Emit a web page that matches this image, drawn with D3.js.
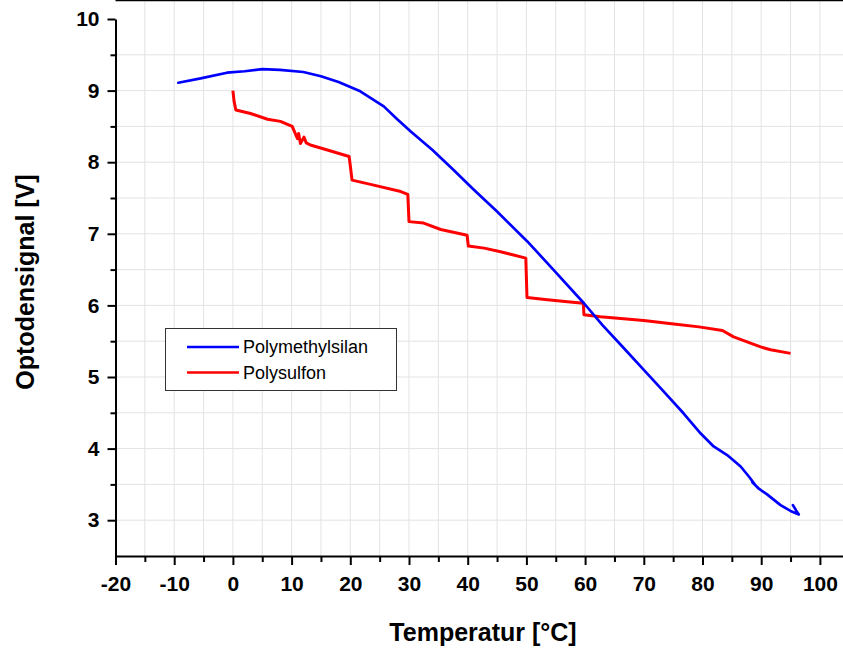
<!DOCTYPE html>
<html>
<head>
<meta charset="utf-8">
<script src="https://cdn.jsdelivr.net/npm/d3@7"></script>
<style>
  body { margin: 0; background: #fff; }
  svg { display: block; font-family: "Liberation Sans", Arial, sans-serif; }
</style>
</head>
<body>
<script>
// Polymethylsilan [temperature, signal]
var pmsTemp = [-9.3, -5.5, -1, 2, 5, 8, 12, 15, 18, 21.7, 25.7, 28, 30.3, 34, 37.6, 41, 45, 50.2, 54.7, 59.8, 63, 66.3, 70, 72.9, 76.8, 79.7, 81.9, 84.2, 86.5, 88, 88.9, 88.5, 89.6, 91, 93.3, 95, 96.4, 96.0, 95.4];
var pmsSignal = [9.11, 9.17, 9.25, 9.27, 9.30, 9.29, 9.26, 9.20, 9.12, 8.99, 8.78, 8.60, 8.43, 8.17, 7.89, 7.62, 7.31, 6.89, 6.49, 6.03, 5.72, 5.43, 5.10, 4.84, 4.49, 4.21, 4.03, 3.91, 3.75, 3.60, 3.50, 3.53, 3.44, 3.36, 3.21, 3.13, 3.08, 3.13, 3.21];

// Polysulfon
var psTemp = [0, 0.2, 0.5, 3, 5.9, 8.1, 10.1, 11, 11.2, 11.5, 12.1, 12.5, 13.2, 16.1, 19.8, 20.0, 20.3, 24, 28.6, 29.8, 30.0, 32.5, 35.4, 39.9, 40.1, 42.8, 45.6, 49.9, 50.1, 53.6, 57, 59.7, 59.8, 62.6, 70, 75.1, 79.4, 83.4, 85.3, 87.6, 89.9, 91.6, 95];
var psSignal = [9.0, 8.85, 8.73, 8.68, 8.60, 8.57, 8.50, 8.33, 8.40, 8.26, 8.35, 8.27, 8.24, 8.17, 8.08, 7.95, 7.75, 7.68, 7.59, 7.55, 7.17, 7.15, 7.06, 6.98, 6.83, 6.80, 6.75, 6.66, 6.11, 6.08, 6.05, 6.03, 5.87, 5.84, 5.79, 5.74, 5.70, 5.65, 5.56, 5.49, 5.42, 5.38, 5.33];

var seriesNames = ["Polymethylsilan", "Polysulfon"];
var seriesColors = ["#0000ff", "#ff0000"];
var xTicks = d3.range(-20, 101, 10);
var yTicks = d3.range(3, 11, 1);

var W = 843, H = 650;
var x = d3.scaleLinear().domain([-20, 105]).range([115.5, 115.5 + 125 * 5.87]);
var y = d3.scaleLinear().domain([2.5, 10]).range([556, 19]);

var svg = d3.select("body").append("svg")
    .attr("width", W)
    .attr("height", H);

var left = x(-20), right = x(105), top = y(10), bottom = y(2.5);

svg.append("rect")
    .attr("x", left).attr("y", top)
    .attr("width", right - left).attr("height", bottom - top)
    .attr("fill", "#f4f4f4");

// grid
svg.append("g").selectAll("line")
    .data(d3.range(-15, 105.1, 5))
  .enter().append("line")
    .attr("x1", d => x(d)).attr("x2", d => x(d))
    .attr("y1", top).attr("y2", bottom)
    .attr("stroke", "#e3e3e3").attr("stroke-width", 1);

svg.append("g").selectAll("line")
    .data(d3.range(3, 10, 0.5))
  .enter().append("line")
    .attr("x1", left).attr("x2", right)
    .attr("y1", d => y(d)).attr("y2", d => y(d))
    .attr("stroke", "#e3e3e3").attr("stroke-width", 1);

// axes
var fmt = d => String(d);
var xAxis = svg.append("g")
    .attr("transform", "translate(0," + bottom + ")")
    .call(d3.axisBottom(x).tickValues(xTicks).tickFormat(fmt).tickSize(9).tickSizeOuter(0).tickPadding(11));
svg.append("g")
    .attr("transform", "translate(0," + bottom + ")")
    .call(d3.axisBottom(x).tickValues(d3.range(-15, 105, 10)).tickSize(6).tickFormat(""))
    .call(g => g.select(".domain").remove());

var yAxis = svg.append("g")
    .attr("transform", "translate(" + left + ",0)")
    .call(d3.axisLeft(y).tickValues(yTicks).tickFormat(fmt).tickSize(8).tickSizeOuter(0).tickPadding(8));
svg.append("g")
    .attr("transform", "translate(" + left + ",0)")
    .call(d3.axisLeft(y).tickValues(d3.range(3.5, 10, 1)).tickSize(5).tickFormat(""))
    .call(g => g.select(".domain").remove());

svg.selectAll(".domain, .tick line").attr("stroke", "#000").attr("stroke-width", 2);
xAxis.selectAll("text").attr("font-size", 21).attr("font-weight", "bold").attr("fill", "#000")
    .attr("dy", "0.72em");
yAxis.selectAll("text").attr("font-size", 21).attr("font-weight", "bold").attr("fill", "#000");

// top border
svg.append("line")
    .attr("x1", left).attr("x2", right)
    .attr("y1", top).attr("y2", top)
    .attr("stroke", "#000").attr("stroke-width", 2.5);

// lines
var line = d3.line().x(d => x(d[0])).y(d => y(d[1]));
var pms = pmsTemp.map((t, i) => [t, pmsSignal[i]]);
var ps = psTemp.map((t, i) => [t, psSignal[i]]);

svg.append("path").datum(ps)
    .attr("d", line)
    .attr("fill", "none").attr("stroke", seriesColors[1])
    .attr("stroke-width", 3).attr("stroke-linejoin", "round");
svg.append("path").datum(pms)
    .attr("d", line)
    .attr("fill", "none").attr("stroke", seriesColors[0])
    .attr("stroke-width", 2.7).attr("stroke-linejoin", "round").attr("stroke-linecap", "round");

// legend
var lg = svg.append("g");
lg.append("rect")
    .attr("x", 165.5).attr("y", 328.5).attr("width", 231).attr("height", 62)
    .attr("fill", "#fff").attr("stroke", "#333").attr("stroke-width", 1);
seriesNames.forEach(function(name, i) {
  var ly = 347 + i * 25.5;
  lg.append("line")
      .attr("x1", 187).attr("x2", 239).attr("y1", ly).attr("y2", ly)
      .attr("stroke", seriesColors[i]).attr("stroke-width", 2.5);
  lg.append("text")
      .attr("x", 243).attr("y", ly + 6)
      .attr("font-size", 18).attr("fill", "#000")
      .text(name);
});

// axis titles
svg.append("text")
    .attr("x", 483).attr("y", 641)
    .attr("text-anchor", "middle")
    .attr("font-size", 25).attr("font-weight", "bold")
    .text("Temperatur [°C]");

svg.append("text")
    .attr("transform", "translate(34,282) rotate(-90)")
    .attr("text-anchor", "middle")
    .attr("font-size", 25).attr("font-weight", "bold")
    .text("Optodensignal [V]");
</script>
</body>
</html>
